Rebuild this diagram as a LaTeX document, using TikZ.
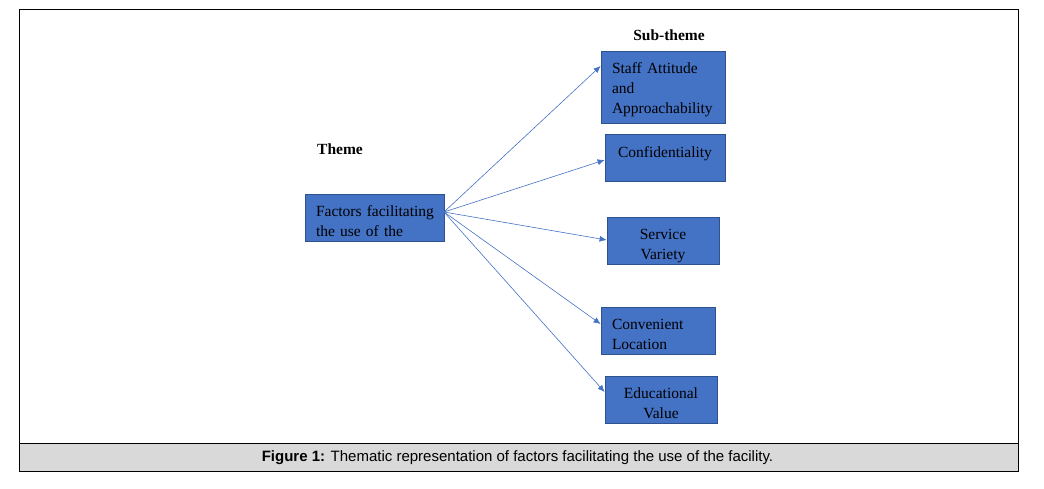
\documentclass[tikz,border=0pt]{standalone}
\usepackage{fontspec}
\setmainfont{Liberation Serif}
\newfontfamily\capfont{Liberation Sans}
\usetikzlibrary{arrows.meta}
\definecolor{boxfill}{HTML}{4472C4}
\definecolor{boxline}{HTML}{2F528F}
\definecolor{capgray}{HTML}{D9D9D9}
\tikzset{
  themebox/.style={draw=boxline, line width=0.8pt, fill=boxfill, inner sep=0pt},
  boxtext/.style={text=black, inner sep=0pt, font=\fontsize{15.5}{20}\selectfont},
  conn/.style={draw=boxfill, line width=0.6pt, -{Latex[length=7pt,width=6pt]}},
  heading/.style={font=\fontsize{15.5}{18}\selectfont\bfseries}
}
\begin{document}
\begin{tikzpicture}[x=1pt,y=-1pt]
\useasboundingbox (0,0) rectangle (1044,489);
% frame and caption band
\draw[line width=0.9pt] (19,9) rectangle (1018,471);
\filldraw[fill=capgray, line width=0.9pt] (19,443) rectangle (1018,471);
\node[font=\capfont\fontsize{15}{16}\selectfont] (cap) at (517.5,458) {\textbf{Figure 1:} Thematic representation of factors facilitating the use of the facility.};
% headings
\node[heading] (th) at (340,149) {Theme};
\node[heading] (sth) at (669,35) {Sub-theme};
% boxes
\node[themebox, minimum width=139pt, minimum height=47pt] (f) at (374.5,217.5) {};
\node[themebox, minimum width=124pt, minimum height=72pt] (s1) at (663,87) {};
\node[themebox, minimum width=120pt, minimum height=47pt] (s2) at (665,157.5) {};
\node[themebox, minimum width=112pt, minimum height=47pt] (s3) at (663,240.5) {};
\node[themebox, minimum width=114pt, minimum height=47pt] (s4) at (658,330.5) {};
\node[themebox, minimum width=112pt, minimum height=47pt] (s5) at (661,399.5) {};
% box texts
\node[boxtext, text width=117pt, align=left] (ft) at ([yshift=-4pt]f.center) {\mbox{Factors facilitating}\\the use of the};
\node[boxtext, text width=102pt, align=left] (s1t) at ([yshift=-3pt]s1.center) {Staff Attitude\\and\\\mbox{Approachability}};
\node[boxtext, text width=98pt, align=center] (s2t) at ([yshift=4pt]s2.center) {Confidentiality};
\node[boxtext, text width=90pt, align=center] (s3t) at ([yshift=-6pt]s3.center) {Service\\Variety};
\node[boxtext, text width=92pt, align=left] (s4t) at ([yshift=-4pt]s4.center) {Convenient\\Location};
\node[boxtext, text width=90pt, align=center] (s5t) at ([yshift=-4pt]s5.center) {Educational\\Value};
% connectors
\coordinate (o) at (444,212);
\draw[conn] (o) -- (s1.west |- 0,66);
\draw[conn] (o) -- (s2.west |- 0,160);
\draw[conn] (o) -- (s3.west |- 0,240);
\draw[conn] (o) -- (s4.west |- 0,324);
\draw[conn] (o) -- (s5.west |- 0,392);
\end{tikzpicture}
\end{document}
